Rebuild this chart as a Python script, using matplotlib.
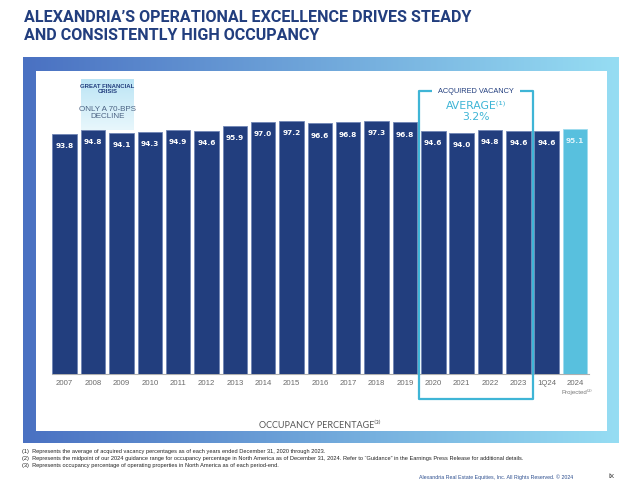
import numpy as np
import matplotlib
matplotlib.use("Agg")
import matplotlib.pyplot as plt
from matplotlib import font_manager
from matplotlib.patches import Rectangle

# data
periods = ['2007', '2008', '2009', '2010', '2011', '2012', '2013', '2014', '2015',
           '2016', '2017', '2018', '2019', '2020', '2021', '2022', '2023', '1Q24', '2024']
occupancy = [93.8, 94.8, 94.1, 94.3, 94.9, 94.6, 95.9, 97.0, 97.2,
             96.6, 96.8, 97.3, 96.8, 94.6, 94.0, 94.8, 94.6, 94.6, 95.1]
projected = [False] * 18 + [True]
acquired_years = ['2020', '2021', '2022', '2023']
gfc_years = ['2008', '2009']
footnotes = [
    "(1)  Represents the average of acquired vacancy percentages as of each years ended December 31, 2020 through 2023.",
    "(2)  Represents the midpoint of our 2024 guidance range for occupancy percentage in North America as of December 31, 2024. "
    "Refer to \u201cGuidance\u201d in the Earnings Press Release for additional details.",
    "(3)  Represents occupancy percentage of operating properties in North America as of each period-end.",
]

installed = {f.name for f in font_manager.fontManager.ttflist}
narrow = 'Liberation Sans Narrow' if 'Liberation Sans Narrow' in installed else 'Liberation Sans'
title_font = 'Roboto' if 'Roboto' in installed else 'DejaVu Sans'

NAVY = '#223e7e'
CYAN = '#3fb5d6'

fig = plt.figure(figsize=(6.4, 4.89), dpi=100)

# background in pixel coordinates
bg = fig.add_axes([0, 0, 1, 1])
bg.set_xlim(0, 640)
bg.set_ylim(489, 0)
bg.axis('off')
grad = np.linspace(0, 1, 256)
c0 = np.array([74, 113, 194]) / 255
c1 = np.array([150, 221, 243]) / 255
img = c0[None, :] + (c1 - c0)[None, :] * grad[:, None]
bg.imshow(img[None, :, :], extent=(23, 619, 444, 58), aspect='auto', zorder=0)
bg.add_patch(Rectangle((36, 72), 571, 360, facecolor='white', edgecolor='none', zorder=1))

bg.text(24, 18, "ALEXANDRIA\u2019S OPERATIONAL EXCELLENCE DRIVES STEADY", fontsize=11.6,
        fontweight='bold', color=NAVY, family=title_font, va='center', ha='left')
bg.text(24, 35, "AND CONSISTENTLY HIGH OCCUPANCY", fontsize=11.6,
        fontweight='bold', color=NAVY, family=title_font, va='center', ha='left')

for k, line in enumerate(footnotes):
    bg.text(22, 451 + k * 7.2, line, fontsize=4.1, family='Liberation Sans',
            color='#222222', va='center', ha='left')
bg.text(573, 477, "Alexandria Real Estate Equities, Inc. All Rights Reserved. \u00a9 2024",
        fontsize=3.8, family='Liberation Sans', color='#2d4f8f', va='center', ha='right')
bg.text(612, 477, "ix", fontsize=6, family='Liberation Sans', color='#444444', va='center', ha='center')
bg.text(320, 425, "OCCUPANCY PERCENTAGE\u207d\u00b3\u207e", fontsize=6.5, family=['Lato', 'DejaVu Sans'],
        color='#555555', va='center', ha='center')

# main chart
ax = fig.add_axes([51.7 / 640, 1 - 375 / 489, 537.5 / 640, 265 / 489])
ax.patch.set_alpha(0)
x = np.arange(len(periods))
colors = ['#58c0de' if p else NAVY for p in projected]
edges = ['#9fdcee' if p else '#7086b5' for p in projected]
ax.bar(x, occupancy, width=0.864, color=colors, edgecolor=edges, linewidth=0.6, zorder=3)
ax.set_xlim(-0.46, 18.5)
ax.set_ylim(29.7, 100.37)

for i, v in enumerate(occupancy):
    ax.annotate(f"{v:.1f}", (x[i], v), xytext=(0, -8.3), textcoords='offset points',
                ha='center', va='center', fontsize=5.3, fontweight='bold',
                color='#dff4fb' if projected[i] else 'white', zorder=4)

ax.set_xticks(x)
ax.set_xticklabels(periods, fontsize=5.6, color='#6b6b6b', family=narrow)
ax.tick_params(axis='x', length=0, pad=3.5)
ax.set_yticks([])
for s in ['top', 'right', 'left']:
    ax.spines[s].set_visible(False)
ax.spines['bottom'].set_color('#b0b0b0')
ax.spines['bottom'].set_linewidth(0.8)

ax.annotate("Projected\u207d\u00b2\u207e", (x[-1], 0), xycoords=('data', 'axes fraction'),
            xytext=(1.5, -12), textcoords='offset points', ha='center', va='center',
            fontsize=4.4, color='#777777', family=[narrow, 'DejaVu Sans'])

# great financial crisis box
g0 = periods.index(gfc_years[0]) - 0.43
g1 = periods.index(gfc_years[-1]) + 0.43
gfc_top, gfc_bot = 108.4, 94.9
top_c = np.array([188, 229, 245]) / 255
bot_c = np.array([232, 247, 252]) / 255
gimg = top_c[None, None, :] + np.linspace(0, 1, 64)[:, None, None] * (bot_c - top_c)[None, None, :]
ax.imshow(gimg, extent=(g0, g1, gfc_bot, gfc_top), aspect='auto', zorder=2, clip_on=False)
gx = (g0 + g1) / 2
ax.text(gx, 106.0, "GREAT FINANCIAL\nCRISIS", fontsize=4.3, fontweight='bold', color=NAVY,
        family=narrow, ha='center', va='center', linespacing=1.0, zorder=3)
ax.text(gx, 99.6, "ONLY A 70-BPS\nDECLINE", fontsize=5.8, color='#4a6283',
        family=narrow, ha='center', va='center', linespacing=1.1, zorder=3)

# acquired vacancy bracket
a0 = periods.index(acquired_years[0]) - 0.5
a1 = periods.index(acquired_years[-1]) + 0.5
am = (a0 + a1) / 2
btop, bbot = 105.2, 23.0
kw = dict(color=CYAN, lw=1.6, clip_on=False, zorder=5, solid_capstyle='butt')
ax.plot([a0 + 0.45, a0, a0, a1, a1, a1 - 0.45], [btop, btop, bbot, bbot, btop, btop], **kw)
ax.text(am, btop, "ACQUIRED VACANCY", fontsize=5.3, color=NAVY, family=narrow,
        ha='center', va='center', zorder=5)
ax.text(am, 101.5, "AVERAGE\u207d\u00b9\u207e", fontsize=7.8, color=CYAN,
        ha='center', va='center', zorder=5)
ax.text(am, 98.4, "3.2%", fontsize=7.8, color=CYAN, ha='center', va='center', zorder=5)

fig.savefig('out.png', dpi=100)
